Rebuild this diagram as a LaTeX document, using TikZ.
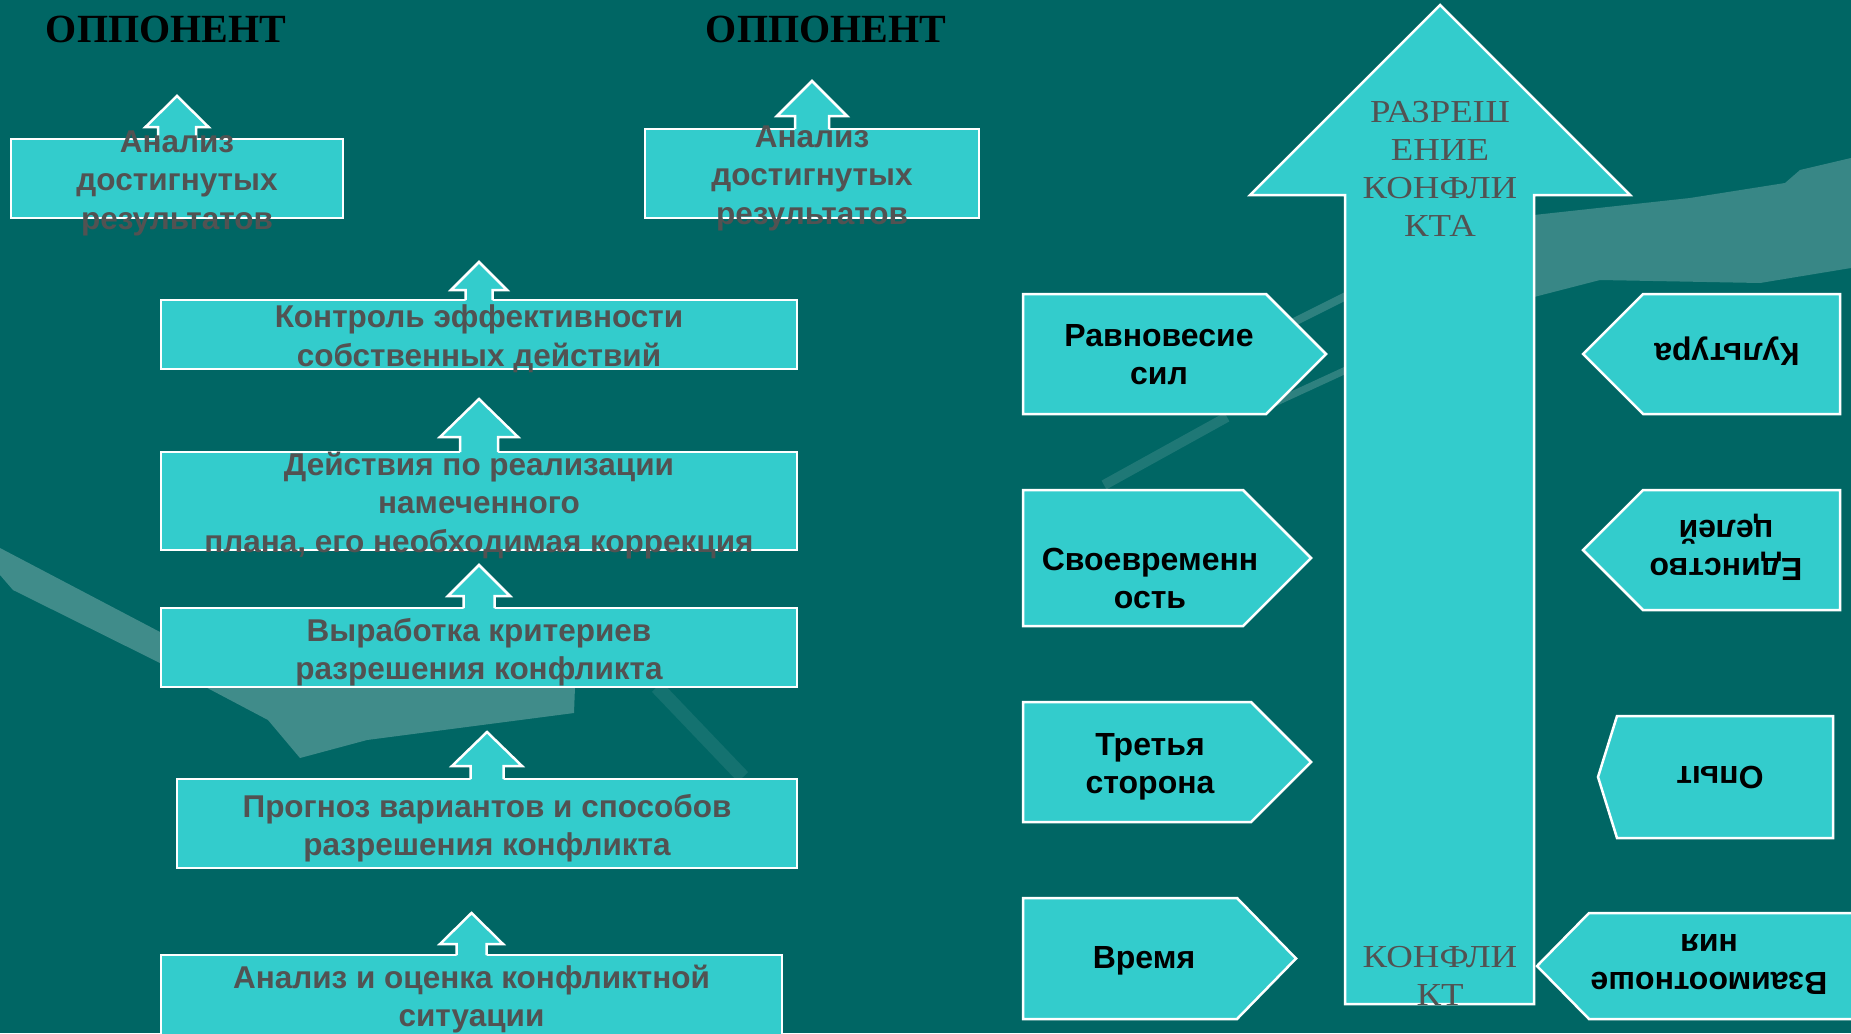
\documentclass[tikz,border=0pt]{standalone}
\usepackage{fontspec}
\setmainfont{Liberation Sans}
\newfontfamily\serifcaps{Liberation Serif}
\newfontfamily\widecaps[FakeStretch=1.15]{Liberation Serif}
\usetikzlibrary{calc}
\definecolor{bgteal}{RGB}{0,102,100}
\definecolor{tilecyan}{RGB}{51,204,204}
\definecolor{inkgray}{RGB}{82,82,82}
% block arrow standing on the top edge of a box
% #1 box, #2 total height, #3 half head, #4 half shaft, #5 head length
\newcommand{\stagearrow}[5]{
\begin{scope}[shift={(#1.north)}]
  \fill[tilecyan] (-#4,2) -- (-#4,-#2+#5) -- (-#3,-#2+#5) -- (0,-#2)
    -- (#3,-#2+#5) -- (#4,-#2+#5) -- (#4,2) -- cycle;
  \draw[white,line width=2.5pt,line join=miter] (-#4,0) -- (-#4,-#2+#5) -- (-#3,-#2+#5)
    -- (0,-#2) -- (#3,-#2+#5) -- (#4,-#2+#5) -- (#4,0);
\end{scope}
}

\begin{document}
\begin{tikzpicture}[x=1pt,y=-1pt]
\tikzstyle{stage}=[draw=white,line width=2.5pt,fill=tilecyan,outer sep=0pt,inner sep=0pt]
\tikzstyle{stagetext}=[text=inkgray,font=\fontsize{31.5}{38.5}\selectfont\bfseries,align=center]
\tikzstyle{tagtext}=[text=black,font=\fontsize{32}{38}\selectfont\bfseries,align=center]
\tikzstyle{tile}=[draw=white,line width=2.5pt,fill=tilecyan,line join=miter]
\tikzstyle{headtext}=[text=black,font=\serifcaps\fontsize{40}{42}\selectfont\bfseries]
\tikzstyle{bigtext}=[text=inkgray,font=\widecaps\fontsize{32}{38}\selectfont,align=center]
\useasboundingbox (0,0) rectangle (1851,1033);
\fill[bgteal] (0,0) rectangle (1851,1033);

% faint background swoosh
\fill[white,opacity=0.25] (0,548) -- (160,632) -- (230,687) -- (575,687) -- (574,713)
  -- (367,740) -- (300,758) -- (268,720) -- (160,663) -- (13,590) -- (0,575) -- cycle;
\fill[white,opacity=0.22] (1534,215) -- (1690,198) -- (1785,183) -- (1800,170) -- (1851,158)
  -- (1851,268) -- (1760,283) -- (1600,280) -- (1534,297) -- cycle;
\draw[white,opacity=0.18,line width=8pt] (1346,296) -- (1262,338);
\draw[white,opacity=0.18,line width=7pt] (1346,370) -- (1270,405);
\draw[white,opacity=0.12,line width=10pt] (1227,417) -- (1104,485);
\draw[white,opacity=0.08,line width=14pt] (657,687) -- (743,777);

% opponents
\node[headtext] (opp1) at (166,29) {ОППОНЕНТ};
\node[headtext] (opp2) at (826,29) {ОППОНЕНТ};

% left column: stages
\node[stage,minimum width=332,minimum height=79] (res1) at (177,178.5) {};
\node[stage,minimum width=334,minimum height=89] (res2) at (812,173.5) {};
\node[stage,minimum width=636,minimum height=69] (control) at (479,334.5) {};
\node[stage,minimum width=636,minimum height=98] (actions) at (479,501) {};
\node[stage,minimum width=636,minimum height=79] (criteria) at (479,647.5) {};
\node[stage,minimum width=620,minimum height=89] (forecast) at (487,823.5) {};
\node[stage,minimum width=621,minimum height=90] (analysis) at (471.5,1000) {};

\stagearrow{res1}{43}{31.5}{19}{31}
\stagearrow{res2}{48}{35}{17}{35}
\stagearrow{control}{38}{28}{13.5}{28}
\stagearrow{actions}{53}{39}{19}{38}
\stagearrow{criteria}{43}{31}{15.5}{31}
\stagearrow{forecast}{47}{35}{16.5}{34}
\stagearrow{analysis}{42}{31.5}{15}{31}

\node[stagetext] (res1text) at (177,183) {Анализ\\достигнутых\\результатов};
\node[stagetext] (res2text) at (812,178) {Анализ\\достигнутых\\результатов};
\node[stagetext] (controltext) at (479,338.5) {Контроль эффективности\\собственных действий};
\node[stagetext] (actionstext) at (479,505.5) {Действия по реализации\\намеченного\\плана, его необходимая коррекция};
\node[stagetext] (criteriatext) at (479,652) {Выработка критериев\\разрешения конфликта};
\node[stagetext] (forecasttext) at (487,828) {Прогноз вариантов и способов\\разрешения конфликта};
\node[stagetext] (analysistext) at (471.5,999) {Анализ и оценка конфликтной\\ситуации};

% big arrow
\draw[tile] (1345,1004) -- (1345,195) -- (1250,195) -- (1440,5) -- (1630,195)
  -- (1534,195) -- (1534,1004) -- cycle;
\node[bigtext] (resolution) at (1440,169) {РАЗРЕШ\\ЕНИЕ\\КОНФЛИ\\КТА};
\node[bigtext] (conflict) at (1440,975.5) {КОНФЛИ\\КТ};

% factor tiles
\foreach \xa/\xb/\xc/\ya/\yb in {1023/1266/1326/294/414, 1023/1243/1311/490/626,
    1023/1251/1311/702/822, 1023/1237/1296/898/1019, 1840/1643/1583/294/414,
    1840/1643/1583/490/610, 1833/1617/1598/716/838, 1860/1589/1537/913/1019}
  \draw[tile] (\xa,\ya) -- (\xb,\ya) -- (\xc,{(\ya+\yb)/2}) -- (\xb,\yb) -- (\xa,\yb) -- cycle;

\node[tagtext] (balance) at (1159,355) {Равновесие\\сил};
\node[tagtext] (timeliness) at (1150,578) {Своевременн\\ость};
\node[tagtext] (thirdparty) at (1150,767) {Третья\\сторона};
\node[tagtext] (time) at (1144,961) {Время};
\node[tagtext,rotate=180] (culture) at (1727,351.5) {Культура};
\node[tagtext,rotate=180] (unity) at (1726,547.5) {Единство\\целей};
\node[tagtext,rotate=180] (experience) at (1720,778) {Опыт};
\node[tagtext,rotate=180] (relations) at (1709,964) {Взаимоотноше\\ния};
\end{tikzpicture}
\end{document}
